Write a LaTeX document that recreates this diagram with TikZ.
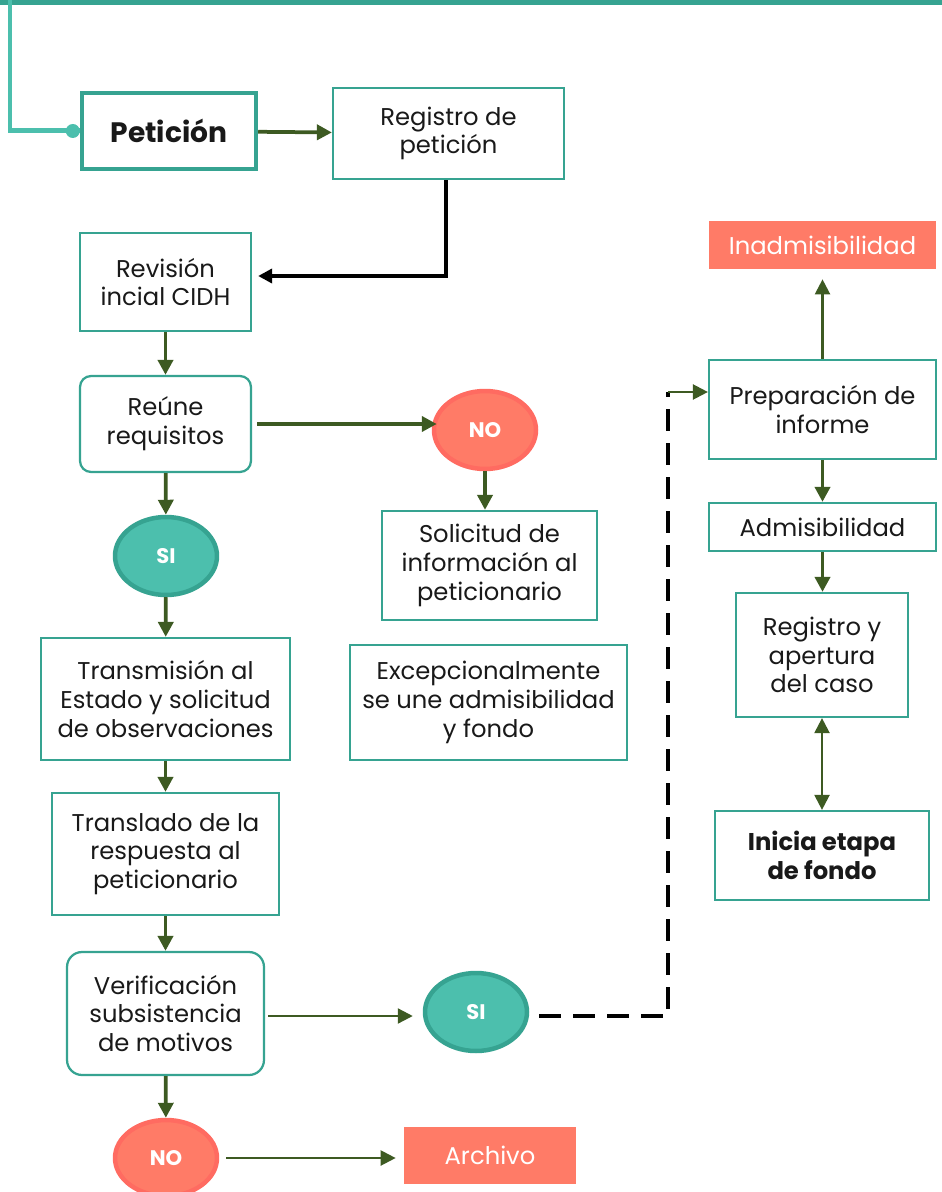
\documentclass[tikz,border=0pt]{standalone}
\usepackage{fontspec}
\setmainfont{Poppins}
\usetikzlibrary{shapes.geometric,arrows.meta}

\definecolor{tealline}{RGB}{54,163,145}
\definecolor{teallight}{RGB}{76,191,173}
\definecolor{salmon}{RGB}{255,123,103}
\definecolor{salmondark}{RGB}{255,107,97}
\definecolor{arrowgreen}{RGB}{61,90,34}
\definecolor{textgray}{RGB}{25,25,25}

\tikzstyle{box} = [draw=tealline, line width=0.045cm, fill=white, align=center, inner sep=0pt, text=textgray, font=\fontsize{13.8}{16.4}\selectfont]
\tikzstyle{rbox} = [box, rounded corners=0.22cm]
\tikzstyle{result} = [fill=salmon, text=white, align=center, inner sep=0pt, font=\fontsize{13.8}{16.4}\selectfont]
\tikzstyle{sioval} = [ellipse, draw=tealline, fill=teallight, line width=0.09cm, text=white, font=\bfseries\fontsize{12}{14}\selectfont, minimum width=2.04cm, minimum height=1.56cm, inner sep=0pt]
\tikzstyle{nooval} = [sioval, draw=salmondark, fill=salmon]
\tikzstyle{arrow} = [draw=arrowgreen, line width=0.075cm, -{Triangle[length=0.3cm,width=0.3cm]}]
\tikzstyle{thinarrow} = [arrow, line width=0.045cm]

\begin{document}
\begin{tikzpicture}[x=0.02cm, y=-0.02cm]
    \useasboundingbox (0,0) rectangle (942,1192);

    % top band
    \coordinate (bandl) at (0,2);
    \coordinate (bandr) at (942,2);
    \coordinate (topl) at (10,0);
    \draw[tealline, line width=0.14cm] (bandl) -- (bandr);

    % left column
    \node[box, line width=0.09cm, font=\bfseries\fontsize{16}{18}\selectfont, minimum width=3.48cm, minimum height=1.52cm] (pet) at (169,131) {Petición};
    \node[box, minimum width=4.62cm, minimum height=1.82cm] (reg) at (448.5,133.5) {Registro de\\petición};
    \node[box, minimum width=3.42cm, minimum height=1.96cm] (rev) at (165.5,282) {Revisión\\incial CIDH};
    \node[rbox, minimum width=3.42cm, minimum height=1.92cm] (reu) at (165.5,424) {Reúne\\requisitos};
    \node[sioval] (si1) at (166,556) {SI};
    \node[box, minimum width=4.98cm, minimum height=2.44cm] (tra) at (165.5,699) {Transmisión al\\Estado y solicitud\\de observaciones};
    \node[box, minimum width=4.54cm, minimum height=2.44cm] (trl) at (165.5,854) {Translado de la\\respuesta al\\peticionario};
    \node[rbox, minimum width=3.94cm, minimum height=2.46cm, rounded corners=0.3cm] (ver) at (165.5,1013.5) {Verificación\\subsistencia\\de motivos};
    \node[nooval, minimum height=1.52cm] (no2) at (166,1158) {NO};
    \node[result, minimum width=3.44cm, minimum height=1.14cm] (arc) at (490,1155.5) {Archivo};

    % middle column
    \node[nooval] (no1) at (485,430) {NO};
    \node[box, minimum width=4.3cm, minimum height=2.18cm] (sol) at (489.5,565.5) {Solicitud de\\información al\\peticionario};
    \node[box, minimum width=5.54cm, minimum height=2.3cm] (exc) at (488.5,702.5) {Excepcionalmente\\se une admisibilidad\\y fondo};
    \node[sioval] (si2) at (476,1012) {SI};

    % right column
    \node[result, minimum width=4.54cm, minimum height=0.96cm] (ina) at (822.5,245) {Inadmisibilidad};
    \node[box, minimum width=4.54cm, minimum height=1.98cm] (pre) at (822.5,409.5) {Preparación de\\informe};
    \node[box, minimum width=4.54cm, minimum height=0.96cm] (adm) at (822.5,527) {Admisibilidad};
    \node[box, minimum width=3.44cm, minimum height=2.48cm] (rya) at (822,655) {Registro y\\apertura\\del caso};
    \node[box, font=\bfseries\fontsize{13.8}{16.4}\selectfont, minimum width=4.28cm, minimum height=1.78cm] (ini) at (822,855.5) {Inicia etapa\\ de fondo};

    % entry line
    \draw[teallight, line width=0.1cm] (topl) |- (pet.west);
    \fill[teallight] ([xshift=-0.14cm]pet.west) circle (0.14cm);

    \path [arrow] (pet) -- (reg);
    \draw[black, line width=0.07cm, -{Triangle[length=0.28cm,width=0.28cm]}] ([xshift=-0.05cm]reg.south) |- ([yshift=0.12cm, xshift=0.12cm]rev.east);
    \path [arrow] (rev) -- (reu);
    \path [arrow] ([xshift=0.1cm]reu.east) -- ([xshift=0.1cm]reu.east -| no1.west);
    \path [arrow] (no1.south) -- (no1.south |- sol.north);
    \path [arrow] (reu) -- (si1);
    \path [arrow] (si1) -- (tra);
    \path [arrow] (tra) -- (trl);
    \path [arrow] (trl) -- (ver);
    \path [arrow] (ver) -- (no2);
    \path [thinarrow] ([xshift=0.06cm, yshift=-0.05cm]ver.east) -- ([xshift=-0.2cm, yshift=-0.05cm]ver.east -| si2.west);
    \path [thinarrow] ([xshift=0.14cm]no2.east) -- ([xshift=-0.16cm]no2.east -| arc.west);

    % dashed link to the right column
    \coordinate (bend) at (668,392);
    \draw[black, line width=0.08cm, dash pattern=on 0.44cm off 0.24cm] ([xshift=0.2cm, yshift=-0.08cm]si2.east) -| (bend);
    \path [thinarrow] (bend) -- (bend -| pre.west);

    \path [thinarrow] (pre) -- ([yshift=-0.2cm]ina.south);
    \path [arrow] (pre) -- (adm);
    \path [arrow] (adm.south) -- (adm.south |- rya.north);
    \path [thinarrow, {Triangle[length=0.3cm,width=0.3cm]}-{Triangle[length=0.3cm,width=0.3cm]}] (rya) -- (ini);
\end{tikzpicture}
\end{document}
